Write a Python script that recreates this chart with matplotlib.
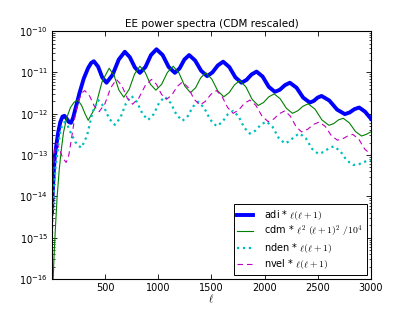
import numpy as np
import matplotlib
matplotlib.use('Agg')
import matplotlib.pyplot as plt

plt.rcParams['font.family'] = 'DejaVu Sans'
plt.rcParams['mathtext.fontset'] = 'cm'

# adi * l(l+1): multipoles and log10 of the value
adi_l = [2, 5, 10, 18, 28, 40, 60, 80, 100, 118, 140, 160, 180, 200, 225, 260,
         300, 340, 370, 395, 435, 474, 514, 571, 629, 686, 733, 781, 828, 880,
         932, 984, 1042, 1099, 1157, 1202, 1246, 1291, 1347, 1404, 1460, 1510,
         1561, 1611, 1669, 1726, 1784, 1831, 1878, 1925, 1982, 2040, 2097, 2144,
         2191, 2238, 2301, 2363, 2426, 2463, 2499, 2536, 2609, 2682, 2755, 2800,
         2845, 2890, 2945, 3000]
adi_log = [-14.37, -14.15, -13.85, -13.4, -13.05, -12.8, -12.45, -12.2, -12.07,
           -12.05, -12.12, -12.2, -12.22, -12.1, -11.85, -11.5, -11.15, -10.9,
           -10.77, -10.73, -10.86, -11.12, -11.25, -11.06, -10.69, -10.50, -10.63,
           -10.88, -11.01, -10.87, -10.58, -10.44, -10.58, -10.87, -11.01, -10.90,
           -10.69, -10.58, -10.71, -10.96, -11.09, -11.00, -10.83, -10.74, -10.87,
           -11.12, -11.25, -11.18, -11.05, -10.98, -11.10, -11.35, -11.47, -11.42,
           -11.31, -11.25, -11.37, -11.61, -11.73, -11.69, -11.61, -11.57, -11.68,
           -11.90, -12.01, -11.97, -11.89, -11.85, -11.95, -12.12]

# cdm * l^2 (l+1)^2 / 1e4
cdm_l = [2, 10, 20, 33, 50, 70, 90, 110, 140, 175, 210, 245, 280, 312, 342, 408,
         473, 539, 585, 631, 677, 727, 778, 828, 878, 928, 978, 1032, 1087, 1141,
         1195, 1250, 1304, 1352, 1400, 1448, 1504, 1561, 1617, 1667, 1718, 1768,
         1825, 1883, 1940, 1990, 2041, 2091, 2148, 2206, 2263, 2312, 2361, 2410,
         2475, 2540, 2605, 2650, 2695, 2740, 2797, 2855, 2912, 2956, 3000]
cdm_log = [-17.5, -16.2, -15.5, -14.8, -14.0, -13.35, -12.85, -12.45, -12.1,
           -11.85, -11.72, -11.67, -11.8, -12.0, -12.16, -11.85, -11.22, -10.90,
           -11.07, -11.43, -11.60, -11.41, -11.04, -10.85, -11.00, -11.29, -11.43,
           -11.29, -11.00, -10.85, -11.01, -11.33, -11.49, -11.37, -11.13, -11.01,
           -11.16, -11.45, -11.59, -11.49, -11.30, -11.20, -11.35, -11.65, -11.80,
           -11.73, -11.59, -11.52, -11.64, -11.87, -11.99, -11.93, -11.82, -11.76,
           -11.89, -12.15, -12.28, -12.24, -12.15, -12.11, -12.22, -12.43, -12.54,
           -12.50, -12.44]

# nden * l(l+1)
nden_l = [2, 6, 12, 20, 35, 55, 75, 95, 120, 150, 185, 220, 250, 279, 331, 383,
          435, 487, 540, 592, 644, 697, 749, 801, 854, 906, 958, 1010, 1062, 1118,
          1173, 1229, 1278, 1327, 1376, 1433, 1491, 1548, 1600, 1653, 1705, 1757,
          1810, 1862, 1914, 1967, 2019, 2076, 2134, 2191, 2238, 2285, 2332, 2390,
          2447, 2505, 2553, 2602, 2650, 2711, 2773, 2834, 2890, 2945, 3000]
nden_log = [-14.9, -14.6, -14.2, -13.8, -13.3, -12.9, -12.5, -12.3, -12.2, -12.3,
            -12.5, -12.68, -12.78, -12.82, -12.53, -11.96, -11.67, -11.82, -12.12,
            -12.27, -12.10, -11.75, -11.57, -11.72, -12.01, -12.15, -12.01, -11.73,
            -11.59, -11.74, -12.03, -12.17, -12.06, -11.83, -11.71, -11.86, -12.15,
            -12.30, -12.21, -12.02, -11.93, -12.07, -12.34, -12.48, -12.41, -12.26,
            -12.19, -12.32, -12.59, -12.72, -12.66, -12.54, -12.48, -12.60, -12.85,
            -12.97, -12.93, -12.84, -12.79, -12.90, -13.13, -13.24, -13.22, -13.16,
            -13.12]

# nvel * l(l+1)
nvel_l = [2, 5, 10, 20, 32, 45, 60, 80, 105, 135, 160, 185, 215, 250, 280, 310,
          355, 400, 445, 499, 554, 608, 658, 709, 759, 818, 878, 937, 984, 1031,
          1078, 1128, 1179, 1229, 1283, 1338, 1392, 1444, 1496, 1548, 1600, 1653,
          1705, 1757, 1810, 1862, 1919, 1977, 2034, 2086, 2139, 2191, 2243, 2296,
          2348, 2404, 2459, 2515, 2572, 2628, 2685, 2733, 2782, 2830, 2887, 2943,
          3000]
nvel_log = [-14.1, -13.8, -13.5, -13.05, -12.8, -12.72, -12.78, -12.92, -13.08,
            -13.18, -13.0, -12.6, -12.1, -11.7, -11.5, -11.44, -11.57, -11.82,
            -11.95, -11.76, -11.37, -11.17, -11.32, -11.62, -11.77, -11.62, -11.32,
            -11.17, -11.29, -11.53, -11.65, -11.55, -11.34, -11.23, -11.37, -11.65,
            -11.79, -11.70, -11.53, -11.44, -11.58, -11.85, -11.99, -11.91, -11.75,
            -11.67, -11.80, -12.06, -12.19, -12.13, -12.00, -11.93, -12.06, -12.31,
            -12.44, -12.38, -12.26, -12.20, -12.31, -12.53, -12.64, -12.61, -12.54,
            -12.50, -12.62, -12.86, -12.98]

labels = [r'adi * $\ell(\ell+1)$',
          r'cdm * $\ell^2\ (\ell+1)^2\ /10^4$',
          r'nden * $\ell(\ell+1)$',
          r'nvel * $\ell(\ell+1)$']
x_ticks = [500, 1000, 1500, 2000, 2500, 3000]
y_ticks = [1e-16, 1e-15, 1e-14, 1e-13, 1e-12, 1e-11, 1e-10]

fig = plt.figure(figsize=(4.13, 3.11), dpi=100)
ax = fig.add_axes([0.126, 0.103, 0.772, 0.797])

ax.semilogy(adi_l, 10.0 ** np.array(adi_log), '-', color='b', lw=2.8, label=labels[0])
ax.semilogy(cdm_l, 10.0 ** np.array(cdm_log), '-', color='g', lw=0.8, label=labels[1])
ax.semilogy(nden_l, 10.0 ** np.array(nden_log), ':', color='c', lw=1.6, label=labels[2])
ax.semilogy(nvel_l, 10.0 ** np.array(nvel_log), '--', color='m', lw=0.8,
            dashes=(5, 3.5), label=labels[3])

ax.set_xlim(2, 3000)
ax.set_ylim(1e-16, 1e-10)
ax.set_xticks(x_ticks)
ax.set_yticks(y_ticks)
ax.tick_params(which='both', direction='in', top=True, right=True, labelsize=7)
ax.tick_params(which='major', length=3.5, width=0.6, pad=3)
ax.tick_params(which='minor', length=1.8, width=0.5)
ax.tick_params(axis='x', which='minor', bottom=False, top=False)
for s in ax.spines.values():
    s.set_linewidth(0.8)

ax.set_title('EE power spectra (CDM rescaled)', fontsize=7.5, pad=3)
ax.set_xlabel(r'$\ell$', fontsize=7.5, labelpad=0)

leg = ax.legend(loc='lower right', fontsize=7, fancybox=False, framealpha=1,
                edgecolor='k', handlelength=1.55, handletextpad=1.2,
                borderaxespad=0.4, labelspacing=0.2, borderpad=0.4)
leg.get_frame().set_linewidth(0.7)

fig.savefig('out.png', dpi=100)
